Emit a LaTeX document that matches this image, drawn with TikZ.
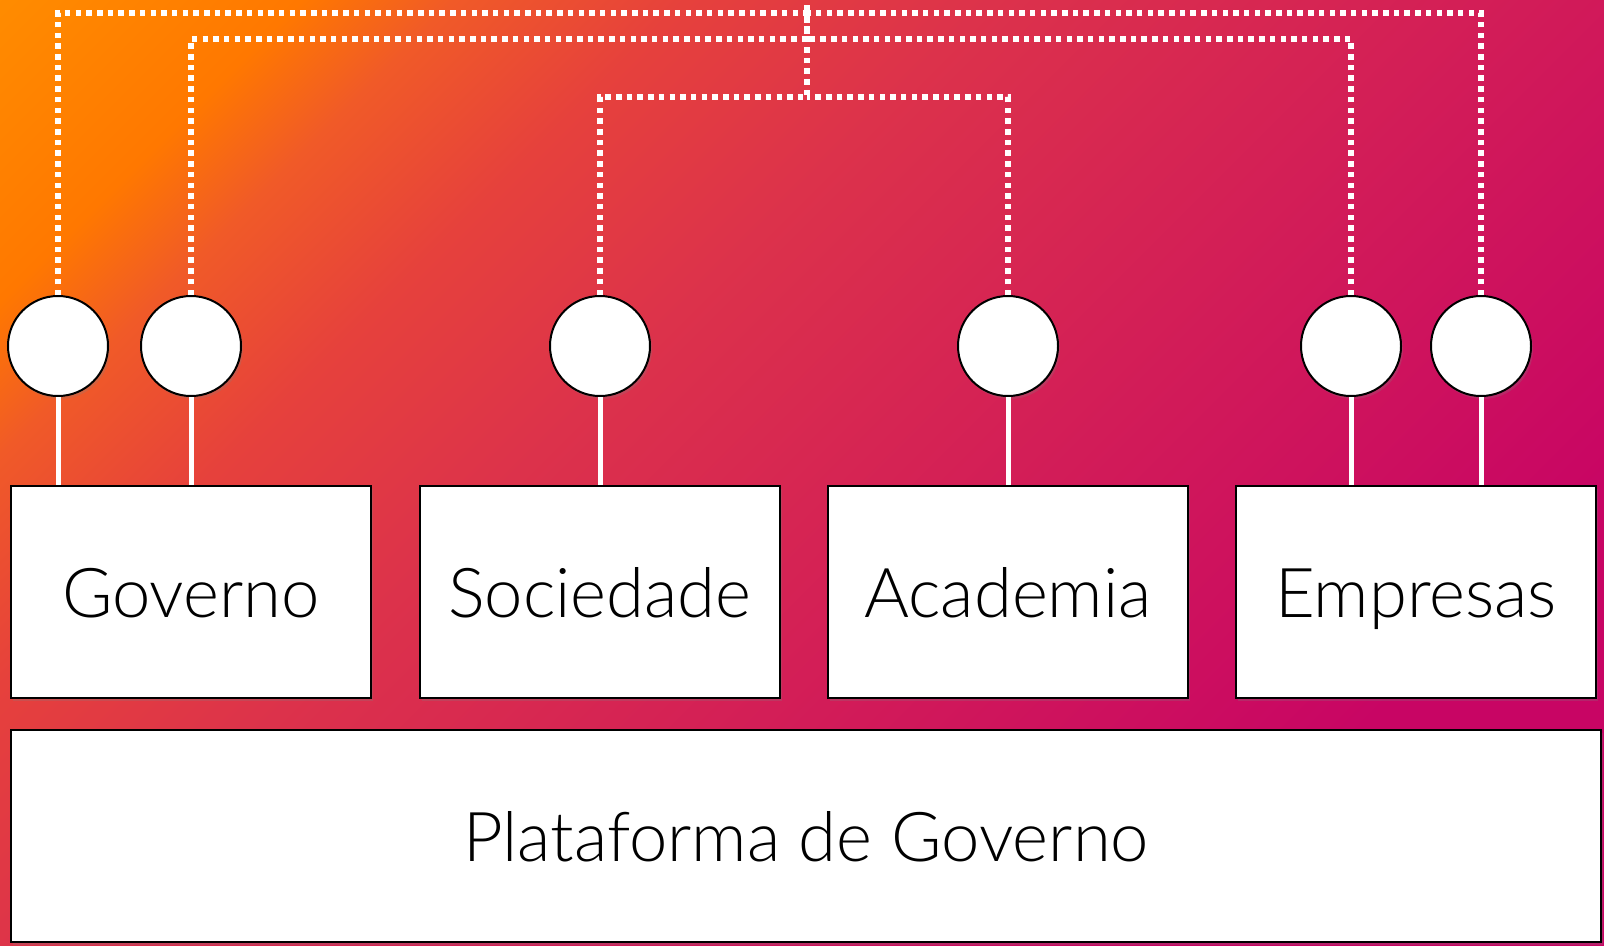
\documentclass[tikz,border=0pt]{standalone}
\usepackage{fontspec}
\setmainfont{Lato}[UprightFont={* Light}]
\usetikzlibrary{shadows}

\definecolor{bgA}{RGB}{255,140,0}
\definecolor{bgB}{RGB}{255,120,0}
\definecolor{bgC}{RGB}{240,90,40}
\definecolor{bgD}{RGB}{230,65,60}
\definecolor{bgE}{RGB}{220,50,75}
\definecolor{bgF}{RGB}{210,28,88}
\definecolor{bgG}{RGB}{200,5,100}
\pgfdeclarehorizontalshading{bgshade}{100bp}{color(0bp)=(bgA); color(25bp)=(bgA);
  color(31bp)=(bgB); color(34bp)=(bgC); color(38.5bp)=(bgD); color(44.5bp)=(bgE);
  color(55bp)=(bgF); color(66bp)=(bgG); color(100bp)=(bgG)}

\begin{document}
\begin{tikzpicture}[x=1bp,y=-1bp,
  box/.style={draw=black,line width=2bp,fill=white,inner sep=0pt,
    minimum width=360bp,minimum height=212bp,font=\fontsize{69}{80}\selectfont,
    text height=50bp,text depth=0pt,
    drop shadow={shadow xshift=2bp,shadow yshift=-3bp,opacity=0.25}},
  dot/.style={circle,draw=black,line width=2bp,fill=white,inner sep=0pt,
    minimum size=100bp,drop shadow={shadow xshift=2bp,shadow yshift=-3bp,opacity=0.25}},
  link/.style={white,line width=5bp},
  wire/.style={white,line width=5.5bp,dash pattern=on 5.5bp off 5.2bp}]
\useasboundingbox (0,0) rectangle (1604,945);
% background, shaded along the diagonal
\begin{scope}
  \clip (0,0) rectangle (1604,945);
  \shade[shading=bgshade,transform canvas={rotate around={-45:(802,472)}}]
    (-103,-433) rectangle (1707,1377);
\end{scope}

% the four groups and the platform
\node[box] (gov) at (191,592) {Governo};
\node[box] (soc) at (600,592) {Sociedade};
\node[box] (aca) at (1008,592) {Academia};
\node[box] (emp) at (1416,592) {Empresas};
\node[box,minimum width=1590bp] (plat) at (806,836) {Plataforma de Governo};

% circles over the boxes
\node[dot] (c1) at (58,346) {};
\node[dot] (c2) at (191,346) {};
\node[dot] (c3) at (600,346) {};
\node[dot] (c4) at (1008,346) {};
\node[dot] (c5) at (1351,346) {};
\node[dot] (c6) at (1481,346) {};

\draw[link] (c1.south) -- (c1.south |- gov.north);
\draw[link] (c2.south) -- (c2.south |- gov.north);
\draw[link] (c3.south) -- (c3.south |- soc.north);
\draw[link] (c4.south) -- (c4.south |- aca.north);
\draw[link] (c5.south) -- (c5.south |- emp.north);
\draw[link] (c6.south) -- (c6.south |- emp.north);

% dotted wires meeting at the top
\coordinate (hub) at (807,5);
\coordinate (l1) at (807,13);
\coordinate (l2) at (807,39);
\coordinate (l3) at (807,97);
\draw[wire] (c1.north) |- (l1) -- (hub);
\draw[wire] (c6.north) |- (l1);
\draw[wire] (c2.north) |- (l2) -- (hub);
\draw[wire] (c5.north) |- (l2);
\draw[wire] (c3.north) |- (l3) -- (hub);
\draw[wire] (c4.north) |- (l3);
\end{tikzpicture}
\end{document}
